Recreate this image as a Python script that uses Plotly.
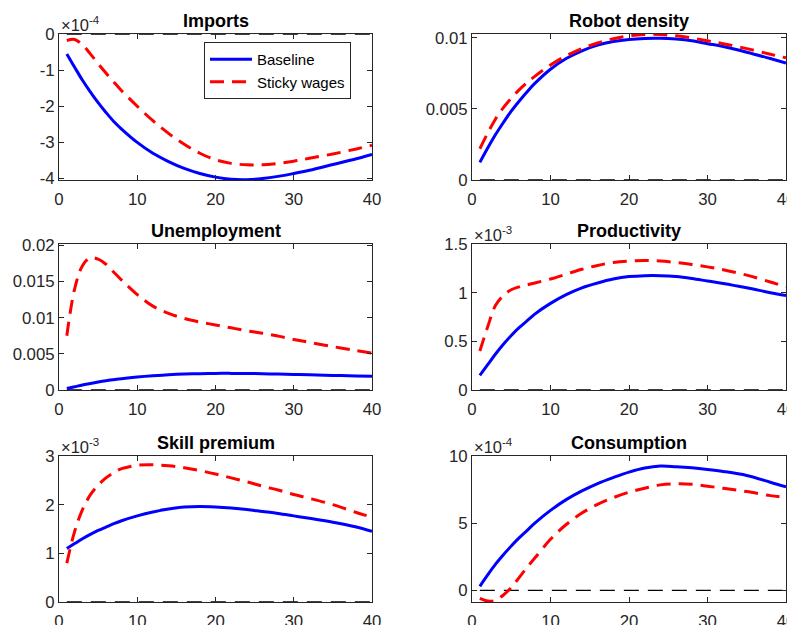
import plotly.graph_objects as go

periods = [1, 2, 3, 4, 5, 6, 7, 8, 10, 12, 14, 16, 18, 20, 22, 24, 26, 28, 30, 32, 35, 38, 40]

# Imports (x 1e-4)
imports_base = [-0.55, -0.92, -1.28, -1.6, -1.9, -2.17, -2.42, -2.63, -3.0, -3.3, -3.53, -3.72, -3.86,
                -3.96, -4.02, -4.03, -4.0, -3.94, -3.86, -3.77, -3.61, -3.45, -3.33]
imports_sticky = [-0.18, -0.15, -0.3, -0.55, -0.82, -1.08, -1.33, -1.57, -2.0, -2.4, -2.75, -3.05, -3.3,
                  -3.48, -3.58, -3.62, -3.62, -3.58, -3.52, -3.44, -3.32, -3.18, -3.08]
# Robot density
robot_base = [0.00124, 0.00225, 0.0032, 0.00405, 0.00485, 0.00555, 0.0062, 0.0068, 0.0078, 0.00855, 0.0091,
              0.0095, 0.00975, 0.0099, 0.00997, 0.00998, 0.00992, 0.0098, 0.0096, 0.0094, 0.009, 0.00855, 0.00824]
robot_sticky = [0.0022, 0.0033, 0.0043, 0.0051, 0.00575, 0.00635, 0.00685, 0.0073, 0.0081, 0.00875, 0.00925,
                0.00965, 0.00995, 0.01015, 0.01025, 0.01025, 0.01015, 0.01, 0.0098, 0.0096, 0.00925, 0.00885, 0.0086]
# Unemployment
unemp_base = [0.0002, 0.00045, 0.0007, 0.0009, 0.0011, 0.00128, 0.00143, 0.00157, 0.0018, 0.00197, 0.0021,
              0.0022, 0.00226, 0.0023, 0.0023, 0.00228, 0.00225, 0.0022, 0.00215, 0.0021, 0.00202, 0.00195, 0.0019]
unemp_sticky = [0.0075, 0.014, 0.0172, 0.0183, 0.0181, 0.0174, 0.0163, 0.0152, 0.0132, 0.0116, 0.0106,
                0.0099, 0.0094, 0.009, 0.0086, 0.0082, 0.00785, 0.00745, 0.007, 0.0066, 0.006, 0.00545, 0.0051]
# Productivity (x 1e-3)
prod_base = [0.15, 0.26, 0.37, 0.47, 0.56, 0.64, 0.71, 0.78, 0.89, 0.98, 1.05, 1.1, 1.14, 1.165, 1.175,
             1.175, 1.165, 1.145, 1.12, 1.095, 1.05, 1.0, 0.97]
prod_sticky = [0.4, 0.65, 0.87, 0.97, 1.03, 1.06, 1.08, 1.1, 1.14, 1.19, 1.24, 1.28, 1.31, 1.325, 1.33,
               1.325, 1.31, 1.29, 1.265, 1.235, 1.18, 1.11, 1.06]
# Skill premium (x 1e-3)
skill_base = [1.1, 1.2, 1.3, 1.39, 1.47, 1.54, 1.61, 1.67, 1.77, 1.85, 1.91, 1.95, 1.96, 1.95, 1.93, 1.9,
              1.86, 1.82, 1.77, 1.72, 1.64, 1.54, 1.45]
skill_sticky = [0.8, 1.45, 1.9, 2.2, 2.4, 2.55, 2.66, 2.74, 2.81, 2.82, 2.8, 2.76, 2.7, 2.63, 2.55, 2.47,
                2.38, 2.3, 2.21, 2.13, 2.0, 1.84, 1.74]
# Consumption (x 1e-4)
cons_base = [0.3, 1.15, 1.95, 2.65, 3.3, 3.9, 4.45, 5.0, 5.95, 6.75, 7.4, 7.95, 8.4, 8.8, 9.1, 9.25, 9.2,
             9.12, 9.0, 8.85, 8.55, 8.05, 7.7]
cons_sticky = [-0.6, -0.8, -0.75, -0.35, 0.2, 0.95, 1.7, 2.4, 3.8, 4.9, 5.75, 6.4, 6.9, 7.3, 7.6, 7.85,
               7.93, 7.9, 7.75, 7.6, 7.35, 7.05, 6.9]

zero_x = [1, 40]
zero_y = [0, 0]

titles = ["Imports", "Robot density", "Unemployment", "Productivity", "Skill premium", "Consumption"]
exponents = ["-4", None, None, "-3", "-3", "-4"]
series = [(imports_base, imports_sticky), (robot_base, robot_sticky), (unemp_base, unemp_sticky),
          (prod_base, prod_sticky), (skill_base, skill_sticky), (cons_base, cons_sticky)]
yranges = [[-4.04, 0], [0, 0.01028], [0, 0.0202], [0, 1.5], [0, 3.0], [-0.87, 10]]
ytickvals = [[-4, -3, -2, -1, 0], [0, 0.005, 0.01], [0, 0.005, 0.01, 0.015, 0.02],
             [0, 0.5, 1, 1.5], [0, 1, 2, 3], [0, 5, 10]]
yticktext = [["-4", "-3", "-2", "-1", "0"], ["0", "0.005", "0.01"], ["0", "0.005", "0.01", "0.015", "0.02"],
             ["0", "0.5", "1", "1.5"], ["0", "1", "2", "3"], ["0", "5", "10"]]
xtickvals = [0, 10, 20, 30, 40]

# the page body has an 8px margin, so the figure is drawn 8px in from the window's corner
OFF = 8
W, H = 795 - OFF, 625 - OFF
col_px = [(59 - OFF, 372 - OFF), (472 - OFF, 786 - OFF)]
row_px = [(34 - OFF, 180 - OFF), (244 - OFF, 390 - OFF), (456 - OFF, 602 - OFF)]

BLUE = "#0000FF"
RED = "#FF0000"
AX = "#262626"
FONT = "Liberation Sans, Arial, Helvetica, sans-serif"

fig = go.Figure()
annotations = []
for i in range(6):
    r, c = divmod(i, 2)
    n = i + 1
    xs = "x" if n == 1 else f"x{n}"
    ys = "y" if n == 1 else f"y{n}"
    base, sticky = series[i]
    fig.add_trace(go.Scatter(x=zero_x, y=zero_y, mode="lines", xaxis=xs, yaxis=ys, showlegend=False,
                             line=dict(color="black", width=1.3, dash="15px,9px"), hoverinfo="skip"))
    fig.add_trace(go.Scatter(x=periods, y=base, mode="lines", xaxis=xs, yaxis=ys, name="Baseline",
                             showlegend=(i == 0), line=dict(color=BLUE, width=3, shape="spline")))
    fig.add_trace(go.Scatter(x=periods, y=sticky, mode="lines", xaxis=xs, yaxis=ys, name="Sticky wages",
                             showlegend=(i == 0), line=dict(color=RED, width=3, dash="14px,8px", shape="spline")))
    x0, x1 = col_px[c]
    y0, y1 = row_px[r]
    dx = [x0 / W, x1 / W]
    dy = [1 - y1 / H, 1 - y0 / H]
    axcommon = dict(showline=True, linecolor=AX, linewidth=1, mirror="ticks", ticks="inside",
                    ticklen=5, tickcolor=AX, showgrid=False, zeroline=False, automargin=False,
                    ticklabeloverflow="allow",
                    tickfont=dict(family=FONT, size=16.8, color=AX))
    fig.update_layout(**{
        ("xaxis" if n == 1 else f"xaxis{n}"): dict(domain=dx, anchor=ys, range=[0, 40],
                                                   tickvals=xtickvals, ticklabelstandoff=4, **axcommon),
        ("yaxis" if n == 1 else f"yaxis{n}"): dict(domain=dy, anchor=xs, range=yranges[i],
                                                   tickvals=ytickvals[i], ticktext=yticktext[i], **axcommon),
    })
    annotations.append(dict(text=f"<b>{titles[i]}</b>", xref="paper", yref="paper",
                            x=(x0 + x1) / 2 / W, y=1 - (y0 - 1) / H, xanchor="center", yanchor="bottom",
                            showarrow=False, font=dict(family=FONT, size=18, color="black")))
    if exponents[i]:
        annotations.append(dict(text=f"×10<sup>{exponents[i]}</sup>", xref="paper", yref="paper",
                                x=(x0) / W, y=1 - (y0 + 2) / H, xanchor="left", yanchor="bottom",
                                showarrow=False, font=dict(family=FONT, size=16.5, color=AX)))

fig.update_layout(
    width=W, height=H, margin=dict(l=0, r=0, t=0, b=0, autoexpand=False),
    paper_bgcolor="white", plot_bgcolor="white",
    annotations=annotations,
    showlegend=True,
    legend=dict(x=(204 - OFF) / W, y=1 - (42 - OFF) / H, xanchor="left", yanchor="top", bgcolor="white",
                bordercolor=AX, borderwidth=1, font=dict(family=FONT, size=15, color="black"),
                tracegroupgap=0, itemwidth=42),
)

fig.write_html("out.html")
